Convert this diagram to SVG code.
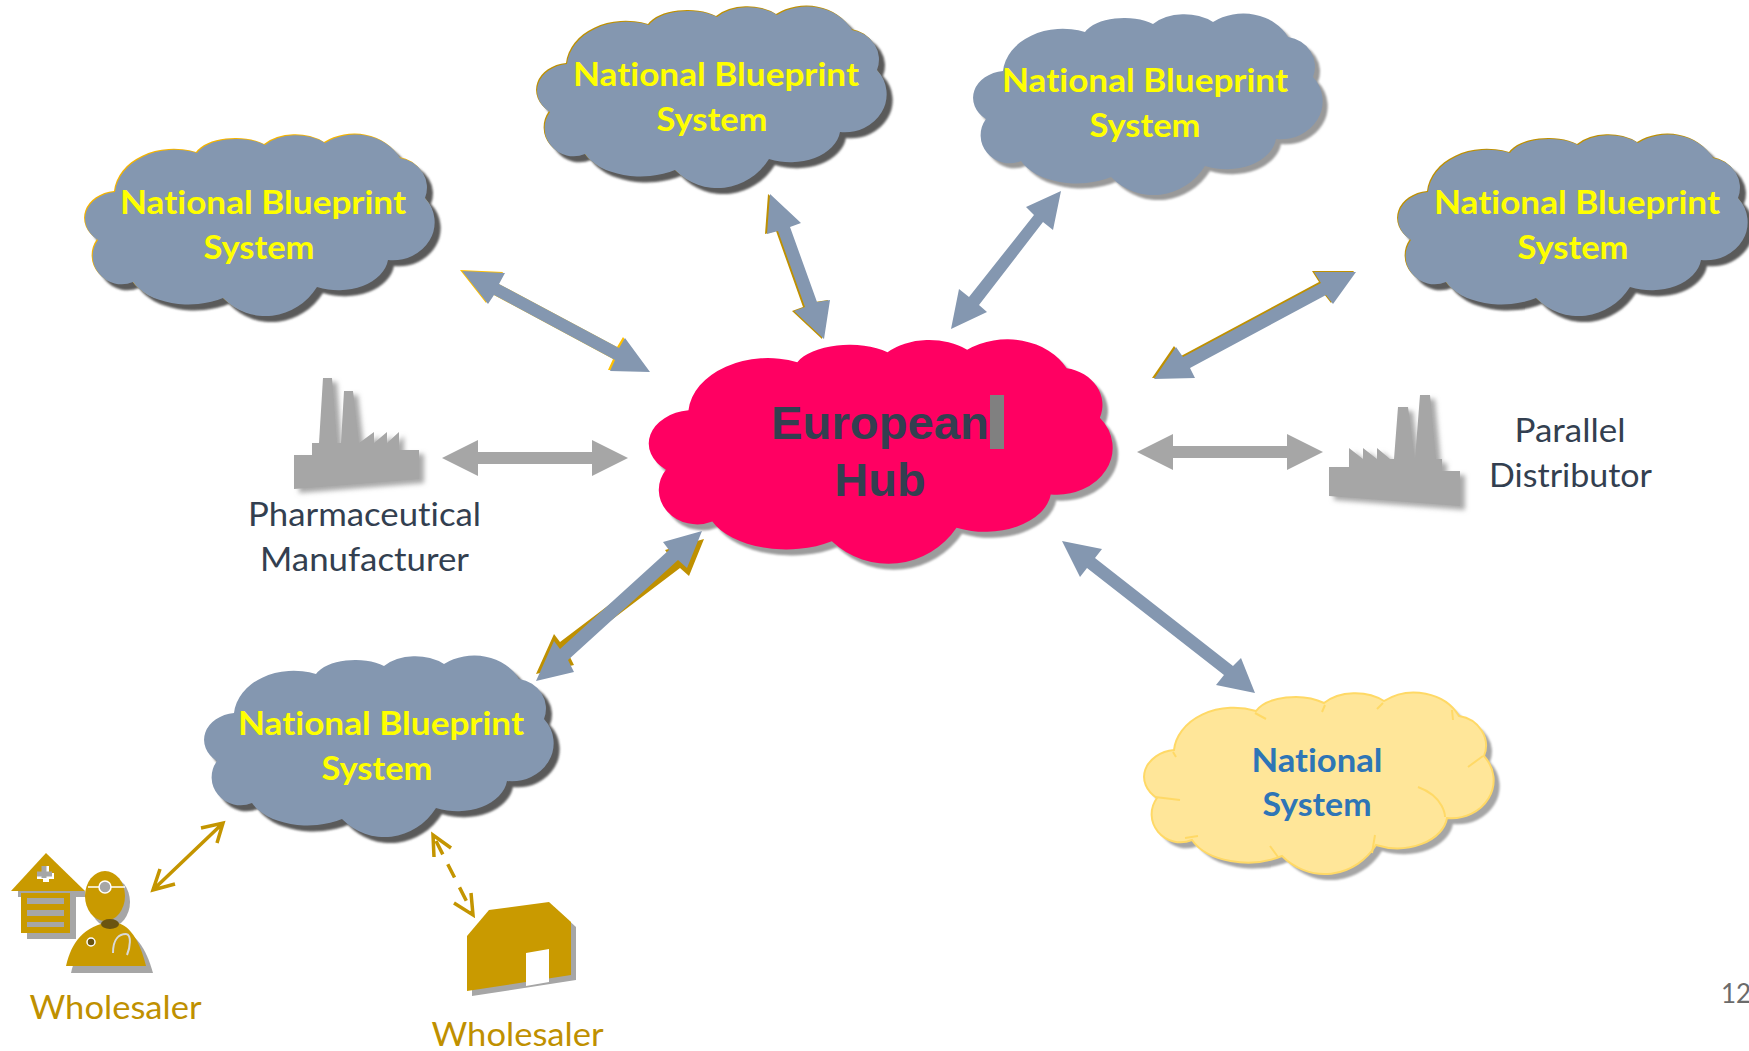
<svg xmlns="http://www.w3.org/2000/svg" width="1749" height="1051" viewBox="0 0 1749 1051">
<style>
.nb{font-family:"Lato","Open Sans",sans-serif;font-weight:700;font-size:32px;fill:#ffff00;text-anchor:middle;font-variant-ligatures:none}
.lb{font-family:"Lato","Open Sans",sans-serif;font-weight:400;font-size:32px;text-anchor:middle;font-variant-ligatures:none}
.dk{fill:#333f50}.au{fill:#bf9000}
.hub{font-family:"Liberation Sans",Arial,sans-serif;font-weight:700;font-size:47px;fill:#333f50;text-anchor:middle}
.ns{font-family:"Lato","Open Sans",sans-serif;font-weight:700;font-size:32px;fill:#2e75b6;text-anchor:middle;font-variant-ligatures:none}
.blue{fill:#8497b0}.grey{fill:#a6a6a6}.ctl{fill:#c99a00}
.thin{fill:none;stroke:#c49500;stroke-width:3.5}
.arc{fill:none;stroke:#ffd966;stroke-width:2}
</style>
<defs>
<path id="cloud" d="M55,82A60,46 0 0 1 137,43A42,22 0 0 1 205,35A40,26 0 0 1 265,33A50,42 0 0 1 340,48A32,30 0 0 1 365,88A42,38 0 0 1 328,150A50,34 0 0 1 257,177A62,66 0 0 1 163,188A60,36 0 0 1 73,172A29,28 0 0 1 38,130A34,27 0 0 1 55,82Z"/>
<filter id="soft" x="-10%" y="-10%" width="120%" height="120%"><feGaussianBlur stdDeviation="0.8"/></filter>
<filter id="fshadow" x="-15%" y="-15%" width="135%" height="135%"><feDropShadow dx="5" dy="4" stdDeviation="2.5" flood-color="#8a8a8a" flood-opacity="0.75"/></filter>
</defs>
<rect width="1749" height="1051" fill="#ffffff"/>
<g id="connectors">
<polygon fill="#ffc000" transform="translate(-2,-1)" points="462,271 505,273 499,284 619,348 625,338 650,372 610,371 615,360 494,295 488,304"/>
<polygon class="blue" points="462,271 505,273 499,284 619,348 625,338 650,372 610,371 615,360 494,295 488,304"/>
<polygon fill="#bf9000" transform="translate(-2,0)" points="770,194 801,223 790,227 817,302 830,300 824,339 794,311 805,307 778,231 767,234"/>
<polygon class="blue" points="770,194 801,223 790,227 817,302 830,300 824,339 794,311 805,307 778,231 767,234"/>
<polygon class="blue" points="1061,191 1053,230 1043,222 979,305 987,312 951,329 959,289 969,297 1034,215 1026,207"/>
<polygon fill="#bf9000" transform="translate(-2,-1)" points="1356,272 1333,304 1326,295 1190,368 1195,378 1154,379 1176,347 1183,357 1321,283 1314,272"/>
<polygon class="blue" points="1356,272 1333,304 1326,295 1190,368 1195,378 1154,379 1176,347 1183,357 1321,283 1314,272"/>
<polygon fill="#bf9000" points="704,539 689,576 680,568 568,653 574,665 536,674 554,634 560,642 671,558 665,550"/>
<polygon class="blue" points="702,531 687,568 678,560 568,660 574,672 536,681 554,641 560,649 669,550 663,542"/>
<polygon class="blue" points="1062,541 1102,549 1095,558 1233,666 1241,658 1255,693 1216,685 1224,675 1087,568 1080,577"/>
<polygon class="grey" points="442,458 478,440 478,452 592,452 592,440 628,458 592,476 592,464 478,464 478,476"/>
<polygon class="grey" points="1137,452 1173,434 1173,446 1287,446 1287,434 1323,452 1287,470 1287,458 1173,458 1173,470"/>
<path class="thin" d="M155,888L221,825M201,828L223,823L217,843M160,869L153,890L175,884"/>
<path class="thin" d="M436,841L472,912" stroke-dasharray="15 11"/>
<path class="thin" d="M434,857L433,835L451,848M454,903L473,915L471,893"/>
</g>
<g id="cloud-west">
<use href="#cloud" transform="translate(66,116)" fill="#5a5a5a" filter="url(#soft)"/>
<use href="#cloud" transform="translate(59,109)" fill="#f5b400"/>
<use href="#cloud" class="blue" transform="translate(60,110)"/>
<text class="nb" x="263" y="214" textLength="286" lengthAdjust="spacingAndGlyphs">National Blueprint</text>
<text class="nb" x="259" y="259" textLength="111" lengthAdjust="spacingAndGlyphs">System</text>
</g>
<g id="cloud-north">
<use href="#cloud" transform="translate(518,-12)" fill="#5a5a5a" filter="url(#soft)"/>
<use href="#cloud" transform="translate(511,-19)" fill="#bf9000"/>
<use href="#cloud" class="blue" transform="translate(512,-18)"/>
<text class="nb" x="716" y="86" textLength="286" lengthAdjust="spacingAndGlyphs">National Blueprint</text>
<text class="nb" x="712" y="131" textLength="111" lengthAdjust="spacingAndGlyphs">System</text>
</g>
<g id="cloud-northeast">
<use href="#cloud" transform="translate(953,-6)" fill="#999999" filter="url(#soft)"/>
<use href="#cloud" class="blue" transform="translate(948,-11)"/>
<text class="nb" x="1145" y="92" textLength="286" lengthAdjust="spacingAndGlyphs">National Blueprint</text>
<text class="nb" x="1145" y="137" textLength="111" lengthAdjust="spacingAndGlyphs">System</text>
</g>
<g id="cloud-east">
<use href="#cloud" transform="translate(1379,116)" fill="#5a5a5a" filter="url(#soft)"/>
<use href="#cloud" transform="translate(1372,109)" fill="#bf9000"/>
<use href="#cloud" class="blue" transform="translate(1373,110)"/>
<text class="nb" x="1577" y="214" textLength="286" lengthAdjust="spacingAndGlyphs">National Blueprint</text>
<text class="nb" x="1573" y="259" textLength="111" lengthAdjust="spacingAndGlyphs">System</text>
</g>
<g id="cloud-southwest">
<use href="#cloud" transform="translate(185,637)" fill="#5a5a5a" filter="url(#soft)"/>
<use href="#cloud" class="blue" transform="translate(179,631)"/>
<text class="nb" x="381" y="735" textLength="286" lengthAdjust="spacingAndGlyphs">National Blueprint</text>
<text class="nb" x="377" y="780" textLength="111" lengthAdjust="spacingAndGlyphs">System</text>
</g>
<g id="european-hub">
<use href="#cloud" transform="translate(621,315) scale(1.327,1.236)" fill="#9c9c9c" filter="url(#soft)"/>
<use href="#cloud" transform="translate(615.5,309) scale(1.327,1.236)" fill="#ff0062"/>
<rect x="990" y="395" width="14" height="54" fill="#808080"/>
<text class="hub" x="880" y="439" textLength="218" lengthAdjust="spacingAndGlyphs">European</text>
<text class="hub" x="880" y="496">Hub</text>
</g>
<g id="national-system">
<use href="#cloud" transform="translate(1125,674)" fill="#a6a6a6" filter="url(#soft)"/>
<use href="#cloud" transform="translate(1119,668)" fill="#ffe699" stroke="#ffd966" stroke-width="2"/>
<path class="arc" d="M1173,752L1176,757M1255,713L1266,719M1322,712L1325,705M1377,709L1383,703M1452,710L1453,720M1483,756L1468,767M1418,787C1445,797 1445,817 1445,817M1375,835L1372,853M1270,846L1278,857M1198,836L1185,838M1155,797L1180,800"/>
<text class="ns" x="1317" y="772" textLength="131" lengthAdjust="spacingAndGlyphs">National</text>
<text class="ns" x="1317" y="816" textLength="109" lengthAdjust="spacingAndGlyphs">System</text>
</g>
<g id="pharmaceutical-manufacturer">
<polygon class="grey" filter="url(#fshadow)" points="294,455 312,455 312,443 319,443 323,378 332,378 337,443 341,443 344,391 353,391 359,443 374,432 374,443 387,432 387,443 399,432 399,450 419,450 419,479 294,489"/>
<text class="lb dk" x="364.500" y="526" textLength="233" lengthAdjust="spacingAndGlyphs">Pharmaceutical</text>
<text class="lb dk" x="364.5" y="571" textLength="209" lengthAdjust="spacingAndGlyphs">Manufacturer</text>
</g>
<g id="parallel-distributor">
<polygon class="grey" filter="url(#fshadow)" points="1329,467 1349,467 1349,448 1363,459 1363,448 1377,459 1377,448 1390,459 1394,459 1398,407 1408,407 1415,459 1420,395 1430,395 1436,459 1442,459 1442,471 1460,471 1460,506 1329,496"/>
<text class="lb dk" x="1570" y="442" textLength="111" lengthAdjust="spacingAndGlyphs">Parallel</text>
<text class="lb dk" x="1570.5" y="487" textLength="163" lengthAdjust="spacingAndGlyphs">Distributor</text>
</g>
<g id="wholesaler-doctor">
<rect x="27" y="897" width="49" height="42" class="grey"/>
<polygon class="grey" points="18,897 86,897 85,891 18,891"/>
<polygon class="ctl" points="46,853 85,891 11,891"/>
<rect x="21" y="893" width="49" height="40" class="ctl"/>
<rect x="27" y="898" width="37" height="6" class="grey"/>
<rect x="27" y="910" width="37" height="6" class="grey"/>
<rect x="27" y="922" width="37" height="5" class="grey"/>
<path d="M46,866V882M37,876H54" stroke="#ffffff" stroke-width="6" fill="none"/>
<path d="M44,866V878M37,874H52" stroke="#a6a6a6" stroke-width="5" fill="none"/>
<path class="grey" d="M71,973C76,950 88,932 116,930C135,930 146,948 153,973Z"/>
<ellipse cx="110" cy="902" rx="20" ry="25" class="grey"/>
<path class="ctl" d="M66,966C71,943 84,925 111,922C130,922 140,942 146,966Z"/>
<ellipse cx="105" cy="896" rx="20" ry="25" class="ctl"/>
<ellipse cx="110" cy="924" rx="9" ry="5" fill="#6b5410"/>
<path d="M88,887H125" stroke="#ffffff" stroke-width="1.5"/>
<circle cx="105" cy="887" r="6" fill="#a6a6a6" stroke="#ffffff" stroke-width="1.5"/>
<path d="M113,953C113,938 120,934 126,934C132,934 130,948 127,955" fill="none" stroke="#d9d9d9" stroke-width="2"/>
<circle cx="91" cy="942" r="4" fill="#6b5410" stroke="#ffffff" stroke-width="1.5"/>
<text class="lb au" x="115.500" y="1019" textLength="172" lengthAdjust="spacingAndGlyphs">Wholesaler</text>
</g>
<g id="wholesaler-warehouse">
<polygon class="grey" transform="translate(5,5)" points="467,936 489,910 549,902 571,922 571,975 467,991"/>
<polygon class="ctl" points="467,936 489,910 549,902 571,922 571,975 467,991"/>
<polygon fill="#ffffff" points="526,953 549,949 549,982 526,986"/>
<text class="lb au" x="517.500" y="1046" textLength="172" lengthAdjust="spacingAndGlyphs">Wholesaler</text>
</g>
<text x="1721" y="1003" font-family="Lato, 'Open Sans', sans-serif" font-size="26" fill="#6b6b6b">12</text>
</svg>
